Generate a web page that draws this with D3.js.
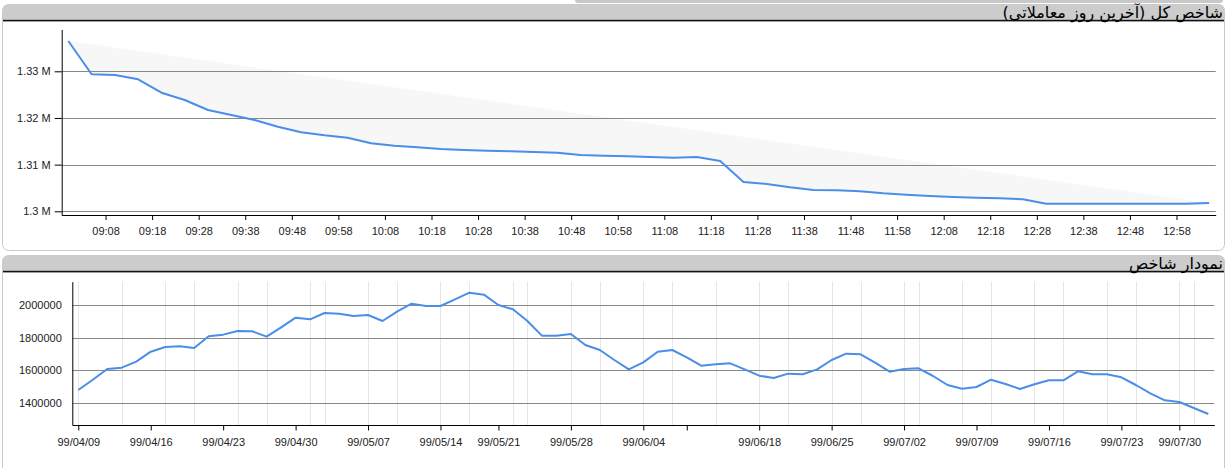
<!DOCTYPE html>
<html>
<head>
<meta charset="utf-8">
<script src="https://cdn.jsdelivr.net/npm/d3@7"></script>
<style>
  html, body { margin: 0; padding: 0; background: #ffffff; }
  svg { display: block; }
  .title { font-family: "DejaVu Sans", "Noto Sans", sans-serif; font-size: 16px; fill: #000; }
  .axis text { font-family: "Liberation Sans", Arial, sans-serif; font-size: 11px; fill: #222; }
</style>
</head>
<body>
<svg id="chart" width="1228" height="468"></svg>
<script>
// ---------- Data: intraday index (last trading day) ----------
const intradayTitle = "شاخص کل (آخرین روز معاملاتی)";
const intradayTimes = [
  "09:00","09:05","09:10","09:15","09:20","09:25","09:30","09:35","09:40","09:45",
  "09:50","09:55","10:00","10:05","10:10","10:15","10:20","10:25","10:30","10:35",
  "10:40","10:45","10:50","10:55","11:00","11:05","11:10","11:15","11:20","11:25",
  "11:30","11:35","11:40","11:45","11:50","11:55","12:00","12:05","12:10","12:15",
  "12:20","12:25","12:30","12:35","12:40","12:45","12:50","12:55","13:00","13:05"
];
const intradayValues = [
  1336490, 1329360, 1329210, 1328290, 1325420, 1323850, 1321710, 1320640, 1319560, 1318130,
  1316930, 1316280, 1315770, 1314570, 1314060, 1313710, 1313350, 1313130, 1312980, 1312850,
  1312700, 1312560, 1312060, 1311910, 1311780, 1311630, 1311490, 1311630, 1310780, 1306280,
  1305850, 1305140, 1304560, 1304500, 1304280, 1303860, 1303560, 1303280, 1303060, 1302910,
  1302780, 1302570, 1301630, 1301630, 1301630, 1301630, 1301630, 1301630, 1301630, 1301780
];
const intradayTickTimes = [
  "09:08","09:18","09:28","09:38","09:48","09:58","10:08","10:18","10:28","10:38","10:48","10:58",
  "11:08","11:18","11:28","11:38","11:48","11:58","12:08","12:18","12:28","12:38","12:48","12:58"
];
const intradayYTicks = [1300000, 1310000, 1320000, 1330000];

// ---------- Data: index history (trading days) ----------
const historyTitle = "نمودار شاخص";
const historyDay = [
   0, 1, 2, 3, 4, 5, 6, 7, 8, 9,10,11,12,13,14,15,16,17,18,19,
  20,21,22,23,24,25,26,27,28,29,30,31,32,33,34,35,36,37,38,39,
  40,41,42,43,44,45,46,47,48,49,50,51,52,53,54,55,56,57,58,59,
  60,61,62,63,64,65,66,67,68,69,70,71,72,73,74,75,76,77,78
];
const historyValues = [
  1479600, 1542700, 1608200, 1616200, 1652900, 1714100, 1742900, 1747000, 1736800, 1808200,
  1818500, 1840800, 1839000, 1806000, 1863300, 1922500, 1912400, 1951000, 1946900, 1932700,
  1938800, 1902000, 1959200, 2008000, 1993900, 1993900, 2034600, 2075500, 2063300, 2000000,
  1973500, 1902000, 1812300, 1812300, 1822500, 1755100, 1724500, 1663300, 1606000, 1649000,
  1714100, 1724500, 1679800, 1628600, 1636700, 1642800, 1606000, 1567300, 1553100, 1579600,
  1575600, 1606000, 1663300, 1701900, 1698000, 1646800, 1591800, 1608200, 1612400, 1565300,
  1510200, 1487800, 1498000, 1542700, 1516400, 1485800, 1514500, 1539000, 1539000, 1594100,
  1575600, 1575600, 1557400, 1510200, 1459400, 1416600, 1406200, 1369400, 1332700
];
const historyTickDays   = [0, 5, 10, 15, 20, 25, 29, 34, 39, 42, 47, 52, 57, 62, 67, 72, 76];
const historyTickLabels = ["99/04/09","99/04/16","99/04/23","99/04/30","99/05/07","99/05/14","99/05/21",
  "99/05/28","99/06/04","","99/06/18","99/06/25","99/07/02","99/07/09","99/07/16","99/07/23","99/07/30"];
const historyGridDays = [0,3,6,8,11,13,16,17,20,22,25,27,30,31,34,36,39,41,44,47,49,52,54,57,58,61,63,66,68,71,73,76,77];
const historyYTicks = [1400000, 1600000, 1800000, 2000000];

// ---------- Drawing ----------
const svg = d3.select("#chart");
const lineColor = "#4a8ee9";

svg.append("rect").attr("x", 575).attr("y", -4).attr("width", 648).attr("height", 7)
  .attr("rx", 3).attr("fill", "#c8c8c8");

function panel(y, h, title) {
  const g = svg.append("g");
  g.append("rect").attr("x", 2.5).attr("y", y + 0.5).attr("width", 1222).attr("height", h)
    .attr("rx", 6).attr("fill", "#fff").attr("stroke", "#c9c9c9");
  const hh = 16;
  g.append("path")
    .attr("d", `M2.5,${y + hh} V${y + 6.5} Q2.5,${y + 0.5} 8.5,${y + 0.5} H1218.5 Q1224.5,${y + 0.5} 1224.5,${y + 6.5} V${y + hh} Z`)
    .attr("fill", "#cccccc");
  g.append("rect").attr("x", 3).attr("y", y + hh - 0.2).attr("width", 1221).attr("height", 1.6).attr("fill", "#111");
  g.append("text").attr("class", "title").attr("x", 1223).attr("y", y + 13.5)
    .attr("direction", "rtl").attr("text-anchor", "start").text(title);
}
panel(4, 246, intradayTitle);
panel(255, 230, historyTitle);

// ---------- Top chart ----------
(function () {
  const parse = d3.timeParse("%H:%M");
  const times = intradayTimes.map(parse);
  const padMs = 1.42 * 60000;
  const x = d3.scaleTime()
    .domain([new Date(+times[0] - padMs), new Date(+times[times.length - 1] + padMs)])
    .range([61.7, 1215.7]);
  const y = d3.scaleLinear().domain([1299207, 1338957]).range([215, 29.5]);
  const g = svg.append("g");

  const pts = times.map((t, i) => [x(t), y(intradayValues[i])]);
  g.append("path").attr("d", "M" + pts.map(p => p.join(",")).join("L") + "Z")
    .attr("fill", "#f7f7f7").attr("stroke", "none");

  g.append("g").selectAll("line").data(intradayYTicks).join("line")
    .attr("x1", 61.7).attr("x2", 1215.7)
    .attr("y1", d => Math.round(y(d)) + 0.5).attr("y2", d => Math.round(y(d)) + 0.5)
    .attr("stroke", "#888").attr("stroke-width", 1);

  const fmtM = v => d3.format(".3~f")(v / 1e6) + " M";
  const yAxis = d3.axisLeft(y).tickValues(intradayYTicks).tickFormat(fmtM).tickSize(7).tickPadding(4).tickSizeOuter(0);
  const ya = g.append("g").attr("class", "axis").attr("transform", "translate(61.7,0)").call(yAxis);
  ya.select(".domain").attr("stroke", "#000");
  ya.selectAll(".tick line").attr("stroke", "#000");

  const xAxis = d3.axisBottom(x).tickValues(intradayTickTimes.map(parse)).tickFormat(d3.timeFormat("%H:%M"))
    .tickSize(5).tickPadding(7.5).tickSizeOuter(0);
  const xa = g.append("g").attr("class", "axis").attr("transform", "translate(0,215)").call(xAxis);
  xa.select(".domain").attr("stroke", "#000");
  xa.selectAll(".tick line").attr("stroke", "#000");

  const line = d3.line().x((d, i) => x(times[i])).y(d => y(d));
  g.append("path").datum(intradayValues).attr("d", line)
    .attr("fill", "none").attr("stroke", lineColor).attr("stroke-width", 2).attr("stroke-linejoin", "round");
})();

// ---------- Bottom chart ----------
(function () {
  const x = d3.scaleLinear().domain([-0.414, 78.414]).range([72.3, 1214.3]);
  const y = d3.scaleLinear().domain([1265306, 2142653]).range([425, 281.7]);
  const g = svg.append("g");

  g.append("g").selectAll("line").data(historyGridDays).join("line")
    .attr("x1", d => Math.round(x(d)) + 0.5).attr("x2", d => Math.round(x(d)) + 0.5)
    .attr("y1", 281.7).attr("y2", 425)
    .attr("stroke", "#e6e6e6").attr("stroke-width", 1);

  g.append("g").selectAll("line").data(historyYTicks).join("line")
    .attr("x1", 72.3).attr("x2", 1214.3)
    .attr("y1", d => Math.round(y(d)) + 0.5).attr("y2", d => Math.round(y(d)) + 0.5)
    .attr("stroke", "#888").attr("stroke-width", 1);

  const yAxis = d3.axisLeft(y).tickValues(historyYTicks).tickFormat(d3.format("d")).tickSize(0).tickPadding(10.5).tickSizeOuter(0);
  const ya = g.append("g").attr("class", "axis").attr("transform", "translate(72.3,0)").call(yAxis);
  ya.select(".domain").attr("stroke", "#000");

  const xAxis = d3.axisBottom(x).tickValues(historyTickDays)
    .tickFormat((d, i) => historyTickLabels[i]).tickSize(5.5).tickPadding(7.2).tickSizeOuter(0);
  const xa = g.append("g").attr("class", "axis").attr("transform", "translate(0,425)").call(xAxis);
  xa.select(".domain").attr("stroke", "#000");
  xa.selectAll(".tick line").attr("stroke", "#000");

  const line = d3.line().x((d, i) => x(historyDay[i])).y(d => y(d));
  g.append("path").datum(historyValues).attr("d", line)
    .attr("fill", "none").attr("stroke", lineColor).attr("stroke-width", 2).attr("stroke-linejoin", "round");
})();
</script>
</body>
</html>
